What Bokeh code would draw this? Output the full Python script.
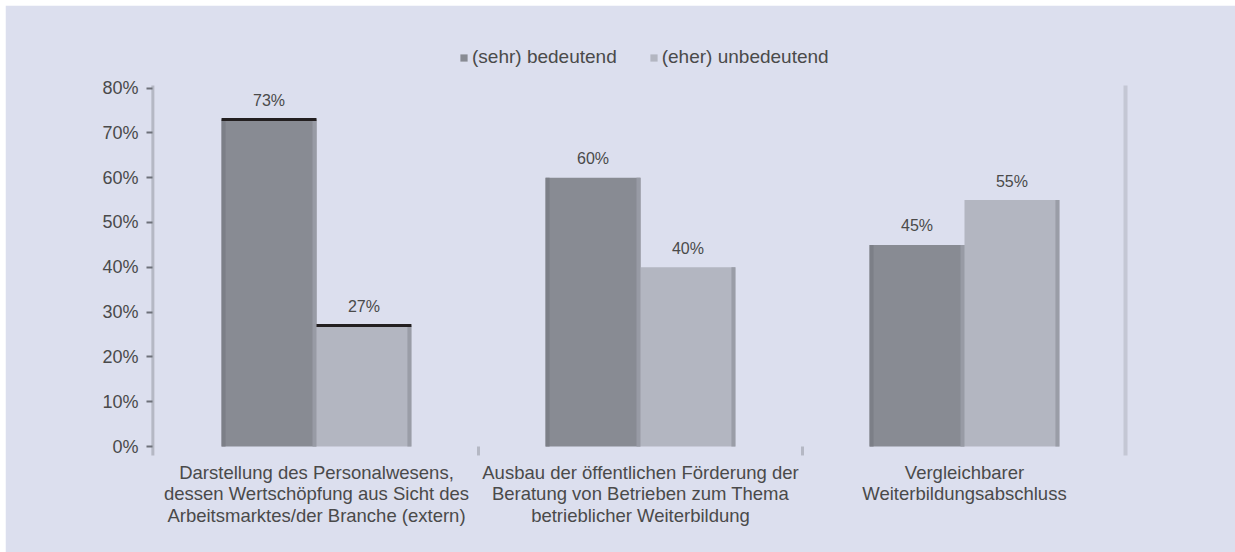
from bokeh.plotting import figure
from bokeh.models import Range1d, FixedTicker, Legend, LegendItem, ColumnDataSource
from bokeh.embed import file_html
from bokeh.resources import INLINE

# --- data -------------------------------------------------------------
categories = [
    ["Darstellung des Personalwesens,",
     "dessen Wertschöpfung aus Sicht des",
     "Arbeitsmarktes/der Branche (extern)"],
    ["Ausbau der öffentlichen Förderung der",
     "Beratung von Betrieben zum Thema",
     "betrieblicher Weiterbildung"],
    ["Vergleichbarer",
     "Weiterbildungsabschluss"],
]
series_names = ["(sehr) bedeutend", "(eher) unbedeutend"]
bedeutend = [73, 60, 45]
unbedeutend = [27, 40, 55]
y_ticks = [0, 10, 20, 30, 40, 50, 60, 70, 80]
y_tick_labels = ["0%", "10%", "20%", "30%", "40%", "50%", "60%", "70%", "80%"]

# --- styling ----------------------------------------------------------
BG = "#DCDFEE"
DARK = "#888B93"
LIGHT = "#B3B6C1"
AXIS = "#B5B8C4"
TEXT = "#4a4a4a"
FONT = "Liberation Sans"
FS = "18px"        # axis tick labels
FS_CAT = "18.5px"  # category text
FS_LEG = "19px"    # legend
FS_VAL = "16px"    # value labels above the bars
PX = 4.48          # pixels per percentage point
AX_TOP = 80.6      # top of the value axis line
AX_BOT = -2.0      # bottom of the value axis line

# frame covers legend and category text too; axis lines are drawn by hand
p = figure(width=1230, height=547, output_backend="svg", toolbar_location=None,
           x_range=Range1d(-0.0123, 3.0062), y_range=Range1d(-20.98, 90.62),
           min_border_left=145, min_border_right=107,
           min_border_top=35, min_border_bottom=12)
p.margin = (5, 0, 0, 5)
p.background_fill_color = BG
p.border_fill_color = BG
p.outline_line_color = BG
p.outline_line_width = 2
p.grid.visible = False
p.xaxis.visible = False

ya = p.yaxis[0]
ya.ticker = FixedTicker(ticks=y_ticks)
ya.major_label_overrides = {t: l for t, l in zip(y_ticks, y_tick_labels)}
ya.axis_line_color = None
ya.major_tick_line_color = "#6d7079"
ya.major_tick_line_width = 2
ya.major_tick_out = 4
ya.major_tick_in = 2
ya.minor_tick_line_color = None
ya.major_label_text_font = FONT
ya.major_label_text_font_size = FS
ya.major_label_text_color = TEXT
ya.major_label_standoff = 8

# value axis line and right frame line
p.segment(x0=[-0.005], x1=[-0.005], y0=[AX_BOT], y1=[AX_TOP],
          line_color=AXIS, line_width=3)
p.segment(x0=[2.997], x1=[2.997], y0=[AX_BOT], y1=[AX_TOP],
          line_color="#C4C7D4", line_width=4)

n = len(bedeutend)
centers = [i + 0.5 for i in range(n)]
bw = 0.293
x_dark = [c - bw / 2 for c in centers]
x_light = [c + bw / 2 for c in centers]
edge = 4 / 324

src = ColumnDataSource(dict(xd=x_dark, xl=x_light, d=bedeutend, u=unbedeutend,
                            dl=[f"{v}%" for v in bedeutend],
                            ul=[f"{v}%" for v in unbedeutend]))

r_dark = p.vbar(x="xd", top="d", width=bw, bottom=0, source=src,
                fill_color=DARK, line_color=None)
r_light = p.vbar(x="xl", top="u", width=bw, bottom=0, source=src,
                 fill_color=LIGHT, line_color=None)

# edge shading for a slight bevel
p.vbar(x=[x - bw / 2 + edge / 2 for x in x_dark], top=bedeutend, width=edge,
       bottom=0, fill_color="#7C7F87", line_color=None)
p.vbar(x=[x + bw / 2 - edge / 2 for x in x_dark], top=bedeutend, width=edge,
       bottom=0, fill_color="#989BA5", line_color=None)
p.vbar(x=[x + bw / 2 - edge / 2 for x in x_light], top=unbedeutend, width=edge,
       bottom=0, fill_color="#9A9DA7", line_color=None)

# dark caps on the first group
p.segment(x0=[x_dark[0] - bw / 2, x_light[0] - bw / 2],
          x1=[x_dark[0] + bw / 2, x_light[0] + bw / 2],
          y0=[bedeutend[0], unbedeutend[0]], y1=[bedeutend[0], unbedeutend[0]],
          line_color="#231F20", line_width=3)

# category separators below the baseline
p.segment(x0=[1, 2], x1=[1, 2], y0=[0, 0], y1=[AX_BOT, AX_BOT],
          line_color=AXIS, line_width=3)

# value labels
for xcol, ycol, lcol in (("xd", "d", "dl"), ("xl", "u", "ul")):
    p.text(x=xcol, y=ycol, text=lcol, source=src, text_align="center",
           text_baseline="alphabetic", y_offset=-19, text_font_size=FS_VAL,
           text_color=TEXT, text_font={"value": FONT})

# category labels, one text per line
cx, cy, ct = [], [], []
for c, lines in zip(centers, categories):
    for k, line in enumerate(lines):
        cx.append(c)
        cy.append(AX_BOT - (17 + 21.5 * k) / PX)
        ct.append(line)
p.text(x=cx, y=cy, text=ct, text_align="center", text_baseline="middle",
       text_font_size=FS_CAT, text_color=TEXT, text_font={"value": FONT})

legend = Legend(items=[LegendItem(label=series_names[0], renderers=[r_dark]),
                       LegendItem(label=series_names[1], renderers=[r_light])],
                orientation="horizontal", location=(309, 472),
                background_fill_alpha=0, border_line_color=None,
                glyph_width=9, glyph_height=9, label_standoff=4, spacing=32,
                padding=0, margin=0, label_text_font=FONT,
                label_text_font_size=FS_LEG, label_text_color=TEXT)
p.add_layout(legend, "center")

open("out.html", "w").write(file_html(p, INLINE))
